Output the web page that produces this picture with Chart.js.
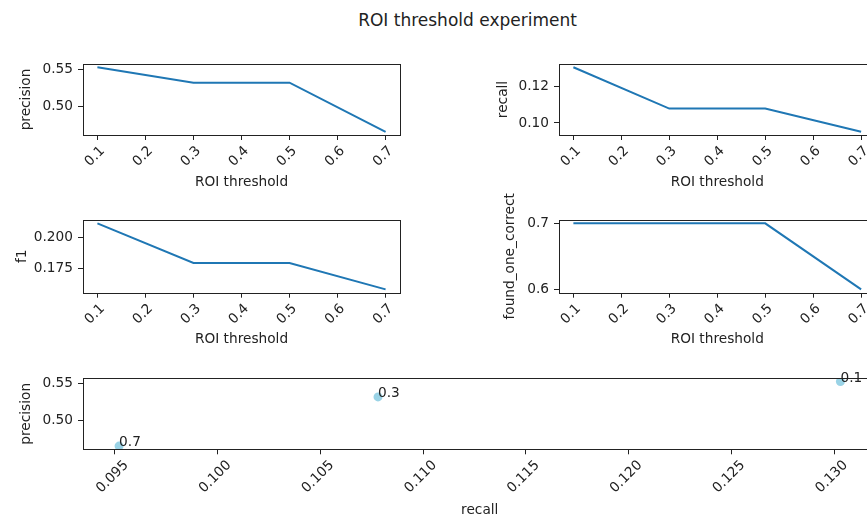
<!DOCTYPE html>
<html>
<head>
<meta charset="utf-8">
<script src="https://cdn.jsdelivr.net/npm/chart.js@4/dist/chart.umd.min.js"></script>
<style>
  html, body { margin: 0; padding: 0; background: #fff; overflow: hidden; width: 867px; height: 517px; }
  canvas { position: absolute; }
  #title { position: absolute; left: 0; top: 10px; width: 935px; text-align: center;
           font-family: "DejaVu Sans"; font-size: 17px; line-height: 20px; color: #222; white-space: nowrap; }
</style>
</head>
<body>
<div id="title">ROI threshold experiment</div>
<script>
// ---- data ----
const thresholds = [0.1, 0.3, 0.5, 0.7];
const precision = [0.553, 0.532, 0.532, 0.465];
const recall = [0.1303, 0.1078, 0.1078, 0.0952];
const f1 = [0.211, 0.1795, 0.1795, 0.1585];
const foundOneCorrect = [0.7, 0.7, 0.7, 0.6];

const thresholdTicks = [0.1, 0.2, 0.3, 0.4, 0.5, 0.6, 0.7];
const thresholdTickLabels = ['0.1', '0.2', '0.3', '0.4', '0.5', '0.6', '0.7'];
const precisionTicks = [0.50, 0.55];
const precisionTickLabels = ['0.50', '0.55'];
const recallTicks = [0.10, 0.12];
const recallTickLabels = ['0.10', '0.12'];
const f1Ticks = [0.175, 0.200];
const f1TickLabels = ['0.175', '0.200'];
const foundTicks = [0.6, 0.7];
const foundTickLabels = ['0.6', '0.7'];

const scatterRecall = [0.1303, 0.1078, 0.0952];
const scatterPrecision = [0.553, 0.532, 0.465];
const scatterLabels = ['0.1', '0.3', '0.7'];
const scatterXTicks = [0.095, 0.100, 0.105, 0.110, 0.115, 0.120, 0.125, 0.130];
const scatterXTickLabels = ['0.095', '0.100', '0.105', '0.110', '0.115', '0.120', '0.125', '0.130'];

// ---- style ----
const FS = 13.7;
const TXT = '#222';
Chart.defaults.font.family = 'DejaVu Sans';
Chart.defaults.font.size = FS;
Chart.defaults.color = TXT;
const LH2 = FS * 1.2 / 2;

function autoRange(arr) {
  const mn = Math.min(...arr), mx = Math.max(...arr), r = mx - mn;
  return [mn - 0.05 * r, mx + 0.05 * r];
}

const frame = {
  id: 'frame',
  afterDatasetsDraw(chart) {
    const {ctx, chartArea: a} = chart;
    ctx.save();
    ctx.strokeStyle = TXT;
    ctx.lineWidth = 1;
    ctx.strokeRect(Math.round(a.left) + 0.5, Math.round(a.top) + 0.5,
                   Math.round(a.right - a.left), Math.round(a.bottom - a.top));
    ctx.restore();
  }
};

function lineData(xs, ys) { return xs.map((x, i) => ({x: x, y: ys[i]})); }

function build(cfg) {
  const [cx, cy, cw, ch] = cfg.rect;
  const [L, T, R, B] = cfg.box;
  const canvas = document.createElement('canvas');
  canvas.width = cw; canvas.height = ch;
  canvas.style.left = cx + 'px'; canvas.style.top = cy + 'px';
  canvas.style.width = cw + 'px'; canvas.style.height = ch + 'px';
  document.body.appendChild(canvas);
  const gridOpts = { drawOnChartArea: false, drawTicks: true, tickLength: 5, tickColor: TXT, tickWidth: 1 };
  return new Chart(canvas, {
    type: cfg.type,
    data: { datasets: cfg.datasets },
    options: {
      responsive: false, animation: false, devicePixelRatio: 1,
      layout: { padding: { left: 0, top: T - cy, right: cx + cw - R, bottom: 0 } },
      plugins: { legend: { display: false }, tooltip: { enabled: false } },
      scales: {
        x: {
          type: 'linear', position: 'bottom', bounds: 'data',
          min: cfg.xRange[0], max: cfg.xRange[1],
          afterBuildTicks: s => { s.ticks = cfg.xTicks.map(v => ({value: v})); },
          afterFit: s => { s.height = cy + ch - B; s.paddingLeft = 0; s.paddingRight = 0; },
          ticks: { autoSkip: false, minRotation: 45, maxRotation: 45, padding: 3,
                   labelOffset: cfg.xLabelOffset, color: TXT,
                   callback: (v, i) => cfg.xLabels[i] },
          grid: gridOpts,
          border: { display: false },
          title: { display: true, text: cfg.xTitle, color: TXT,
                   padding: { top: 0, bottom: ch - (cfg.xTitleY - cy) - LH2 } }
        },
        y: {
          type: 'linear', position: 'left', bounds: 'data',
          min: cfg.yRange[0], max: cfg.yRange[1],
          afterBuildTicks: s => { s.ticks = cfg.yTicks.map(v => ({value: v})); },
          afterFit: s => { s.width = L - cx; s.paddingTop = 0; s.paddingBottom = 0; },
          ticks: { autoSkip: false, padding: 5, color: TXT,
                   callback: (v, i) => cfg.yLabels[i] },
          grid: gridOpts,
          border: { display: false },
          title: { display: true, text: cfg.yTitle, color: TXT,
                   padding: { top: cfg.yTitleX - cx - LH2, bottom: 0 } }
        }
      }
    },
    plugins: [frame].concat(cfg.extra || [])
  });
}

function lineSet(xs, ys) {
  return [{ data: lineData(xs, ys), borderColor: '#1f77b4', borderWidth: 2,
            pointRadius: 0, fill: false, tension: 0 }];
}

const thrRange = autoRange(thresholds);

// precision
build({ type: 'line', rect: [0, 50, 440, 150], box: [83, 64, 400, 135],
  datasets: lineSet(thresholds, precision),
  xRange: thrRange, yRange: autoRange(precision),
  xTicks: thresholdTicks, xLabels: thresholdTickLabels, xLabelOffset: 5.2,
  yTicks: precisionTicks, yLabels: precisionTickLabels,
  xTitle: 'ROI threshold', yTitle: 'precision', xTitleY: 182.3, yTitleX: 26.6 });

// recall
build({ type: 'line', rect: [440, 50, 460, 150], box: [559, 64, 875.5, 135],
  datasets: lineSet(thresholds, recall),
  xRange: thrRange, yRange: autoRange(recall),
  xTicks: thresholdTicks, xLabels: thresholdTickLabels, xLabelOffset: 5.2,
  yTicks: recallTicks, yLabels: recallTickLabels,
  xTitle: 'ROI threshold', yTitle: 'recall', xTitleY: 182.3, yTitleX: 503 });

// f1
build({ type: 'line', rect: [0, 205, 440, 155], box: [83, 220, 400, 292.7],
  datasets: lineSet(thresholds, f1),
  xRange: thrRange, yRange: autoRange(f1),
  xTicks: thresholdTicks, xLabels: thresholdTickLabels, xLabelOffset: 5.2,
  yTicks: f1Ticks, yLabels: f1TickLabels,
  xTitle: 'ROI threshold', yTitle: 'f1', xTitleY: 339, yTitleX: 22.7 });

// found_one_correct
build({ type: 'line', rect: [440, 185, 460, 175], box: [559, 220, 875.5, 292.7],
  datasets: lineSet(thresholds, foundOneCorrect),
  xRange: thrRange, yRange: autoRange(foundOneCorrect),
  xTicks: thresholdTicks, xLabels: thresholdTickLabels, xLabelOffset: 5.2,
  yTicks: foundTicks, yLabels: foundTickLabels,
  xTitle: 'ROI threshold', yTitle: 'found_one_correct', xTitleY: 339, yTitleX: 510.7 });

// scatter precision vs recall
const pointLabels = {
  id: 'pointLabels',
  afterDraw(chart) {
    const {ctx} = chart;
    const xs = chart.scales.x, ys = chart.scales.y;
    ctx.save();
    ctx.font = FS + 'px "DejaVu Sans"';
    ctx.fillStyle = TXT;
    ctx.textAlign = 'left';
    ctx.textBaseline = 'alphabetic';
    scatterLabels.forEach((t, i) => {
      ctx.fillText(t, xs.getPixelForValue(scatterRecall[i]), ys.getPixelForValue(scatterPrecision[i]));
    });
    ctx.restore();
  }
};
build({ type: 'scatter', rect: [0, 365, 900, 165], box: [83, 378.3, 876.5, 449.3],
  datasets: [{ data: lineData(scatterRecall, scatterPrecision), backgroundColor: '#9ad3e6',
               borderWidth: 0, pointRadius: 4.5, pointHoverRadius: 4.5 }],
  xRange: autoRange(scatterRecall), yRange: autoRange(scatterPrecision),
  xTicks: scatterXTicks, xLabels: scatterXTickLabels, xLabelOffset: 11.4,
  yTicks: precisionTicks, yLabels: precisionTickLabels,
  xTitle: 'recall', yTitle: 'precision', xTitleY: 510.7, yTitleX: 26.6,
  extra: [pointLabels] });
</script>
</body>
</html>
